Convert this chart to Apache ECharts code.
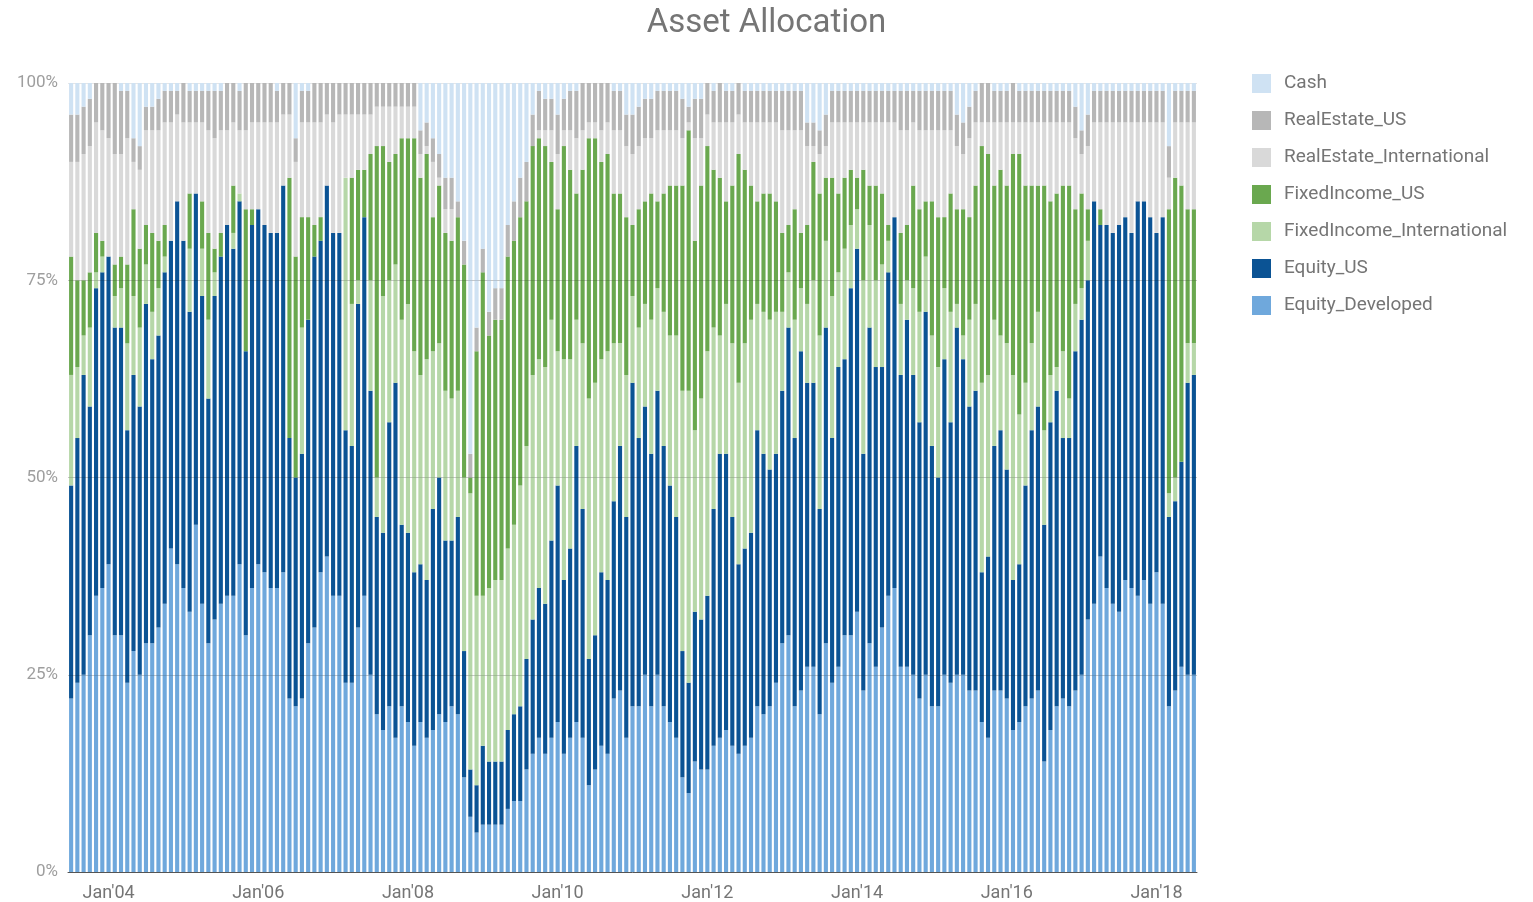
<!DOCTYPE html>
<html lang="en">
<head>
	<meta charset="UTF-8">
	<title>Asset Allocation</title>
	<script src="https://cdn.jsdelivr.net/npm/echarts@6/dist/echarts.min.js"></script>
	<style>
		html, body { margin: 0; padding: 0; background: #fff; }
		#chart { width: 1533px; height: 902px; }
	</style>
</head>
<body>
	<div id="chart"></div>
	<script>
		// monthly allocation in %, Jul 2003 .. Jul 2018
		var monthNames = ['Jan', 'Feb', 'Mar', 'Apr', 'May', 'Jun', 'Jul', 'Aug', 'Sep', 'Oct', 'Nov', 'Dec'];
		var startYear = 2003, startMonth = 6;

		var equityDeveloped = [
			22,24,25,30,35,36,39,30,30,24, 28,25,29,29,31,34,41,39,36,33,
			44,34,29,32,34,35,35,39,30,36, 39,38,36,36,38,22,21,22,29,31,
			38,40,35,35,24,24,31,35,25,20, 18,21,17,21,19,16,19,17,18,20,
			19,21,20,12,7,5,6,6,6,6, 8,9,9,13,15,17,15,17,19,15,
			17,19,17,11,13,16,15,22,23,17, 21,21,25,21,25,21,19,17,12,10,
			14,13,13,16,17,18,16,15,16,17, 21,20,21,24,29,30,21,23,26,26,
			20,29,24,26,30,30,33,23,29,26, 31,35,36,26,26,25,22,25,21,21,
			25,24,25,25,23,23,19,17,23,23, 22,18,19,21,22,23,14,18,21,22,
			21,23,25,32,34,40,36,34,33,37, 36,35,37,34,38,34,21,23,26,25,
			25
		];
		var equityUS = [
			27,31,38,29,39,40,39,39,39,32, 35,34,43,36,37,42,39,46,44,38,
			42,39,31,41,44,47,44,46,36,46, 45,44,45,45,49,33,29,31,41,47,
			42,47,46,46,32,30,41,48,36,25, 25,36,45,23,24,22,20,20,28,30,
			23,21,25,16,6,6,10,8,8,8, 10,11,12,14,17,19,19,25,30,22,
			24,35,29,16,17,22,22,25,31,28, 41,34,34,32,36,33,30,28,16,14,
			19,19,22,30,36,35,29,24,25,26, 35,33,30,29,32,39,34,43,36,36,
			26,40,31,38,35,44,46,30,40,38, 33,41,47,37,44,38,35,46,33,29,
			40,33,44,40,36,38,19,23,31,33, 29,19,20,28,34,36,30,39,40,33,
			34,43,45,43,51,42,46,47,49,46, 45,50,48,49,43,49,24,24,26,37,
			38
		];
		var fixedIncomeIntl = [
			14,9,5,10,2,2,0,4,5,11, 10,10,5,6,6,2,0,0,0,8,
			0,6,10,3,0,0,2,1,0,0, 0,0,0,0,0,0,0,16,0,0,
			0,0,0,0,32,18,3,0,14,5, 30,18,15,26,29,28,24,28,20,17,
			19,18,16,22,35,24,19,22,23,23, 23,24,28,27,31,29,30,28,17,28,
			24,16,21,33,32,27,29,20,13,18, 11,14,13,17,13,17,19,23,33,37,
			23,28,31,23,15,19,22,23,26,27, 16,18,19,18,10,7,15,8,10,13,
			22,11,18,12,14,8,5,22,13,11, 13,4,0,9,5,11,14,7,14,14,
			9,14,3,3,11,11,24,23,16,12, 16,26,19,13,11,12,12,6,3,11,
			5,6,4,5,0,0,0,0,0,0, 0,0,0,0,0,0,3,3,0,5,
			4
		];
		var fixedIncomeUS = [
			15,11,7,7,5,2,0,4,4,10, 11,10,5,10,6,4,0,0,0,7,
			0,6,11,3,3,0,6,0,18,2, 0,0,0,0,0,33,28,14,13,4,
			3,0,0,0,0,16,14,6,16,42, 19,15,14,23,21,27,25,26,17,20,
			20,20,22,27,2,31,41,32,33,33, 37,36,34,31,29,28,28,20,18,27,
			24,16,22,33,31,25,25,19,19,20, 9,15,13,16,11,15,19,19,26,33,
			24,27,26,20,20,13,20,29,22,17, 13,15,16,14,10,6,14,7,10,15,
			18,8,15,10,9,7,4,14,5,12, 9,2,0,9,7,13,13,7,17,19,
			9,15,12,16,13,15,30,28,17,21, 20,28,33,25,20,16,31,22,22,21,
			27,12,12,4,0,2,0,0,0,0, 0,0,0,0,0,0,36,38,35,17,
			17
		];
		var realEstateIntl = [
			12,15,16,16,14,14,15,14,13,16, 6,10,12,13,14,13,15,11,15,9,
			9,10,13,14,13,12,8,8,10,11, 11,13,14,14,9,8,12,12,12,13,
			12,9,14,15,8,8,7,7,5,5, 5,7,6,4,4,4,3,1,7,1,
			3,4,0,0,0,0,0,0,0,0, 0,0,0,0,0,1,2,4,7,2,
			5,7,5,2,2,4,4,8,8,9, 9,8,8,7,9,8,7,7,6,1,
			13,6,4,6,7,10,8,5,6,8, 10,9,9,10,13,12,10,13,10,2,
			5,4,7,9,7,6,7,6,8,8, 9,13,12,13,12,8,10,9,9,11,
			11,8,8,7,10,8,3,4,8,6, 8,4,4,8,8,8,8,10,9,8,
			8,9,5,8,10,11,13,14,13,12, 14,10,10,12,14,12,4,7,8,11,
			11
		];
		var realEstateUS = [
			6,6,6,6,5,6,7,9,8,6, 3,3,3,3,4,4,4,3,5,4,
			4,4,5,6,5,6,5,5,6,5, 5,5,5,4,4,4,3,4,4,5,
			5,4,5,4,4,4,4,4,4,3, 3,3,3,3,3,3,3,3,3,3,
			4,4,2,3,3,3,3,3,4,4, 4,5,5,5,4,5,4,4,5,4,
			5,6,6,5,5,6,5,5,5,4, 5,5,5,5,5,5,5,5,5,2,
			5,5,4,4,5,4,4,4,4,4, 4,4,4,4,5,5,5,5,3,3,
			3,4,4,4,4,4,4,4,4,4, 4,4,4,5,5,4,5,5,5,5,
			5,5,4,4,4,4,5,5,4,4, 4,5,4,4,4,4,4,4,4,4,
			4,4,3,4,4,4,4,4,4,4, 4,4,4,4,4,4,4,4,4,4,
			4
		];
		var cash = [
			4,4,3,2,0,0,0,0,1,1, 7,8,3,3,2,1,1,1,0,1,
			1,1,1,1,1,0,0,1,0,0, 0,0,0,1,0,0,7,1,1,0,
			0,0,0,0,0,0,0,0,0,0, 0,0,0,0,0,0,6,5,7,9,
			12,12,15,20,47,31,21,29,26,26, 18,15,12,10,4,1,2,2,4,2,
			1,1,0,0,0,0,0,1,1,4, 4,3,2,2,1,1,1,1,2,3,
			2,2,0,1,0,1,1,0,1,1, 1,1,1,1,1,1,1,1,5,5,
			6,4,1,1,1,1,1,1,1,1, 1,1,1,1,1,1,1,1,1,1,
			1,1,4,5,3,1,0,0,1,1, 1,0,1,1,1,1,1,1,1,1,
			1,3,6,4,1,1,1,1,1,1, 1,1,1,1,1,1,8,1,1,1,
			1
		];
		var yTicks = [0, 25, 50, 75, 100];

		var categories = [];
		for (var i = 0; i < equityDeveloped.length; i++) {
			var m = (startMonth + i) % 12;
			var y = startYear + Math.floor((startMonth + i) / 12);
			categories.push(monthNames[m] + "'" + String(y).slice(2));
		}

		var seriesDefs = [
			{ name: 'Equity_Developed', data: equityDeveloped, color: '#6fa8dc' },
			{ name: 'Equity_US', data: equityUS, color: '#0b5394' },
			{ name: 'FixedIncome_International', data: fixedIncomeIntl, color: '#b6d7a8' },
			{ name: 'FixedIncome_US', data: fixedIncomeUS, color: '#6aa84f' },
			{ name: 'RealEstate_International', data: realEstateIntl, color: '#d9d9d9' },
			{ name: 'RealEstate_US', data: realEstateUS, color: '#b7b7b7' },
			{ name: 'Cash', data: cash, color: '#cfe2f3' }
		];

		var series = seriesDefs.map(function (s) {
			return {
				name: s.name,
				type: 'bar',
				stack: 'total',
				data: s.data,
				barCategoryGap: '34%',
				itemStyle: { color: s.color },
				emphasis: { disabled: true }
			};
		});
		// gridlines drawn over the bars, as in the original
		series[series.length - 1].markLine = {
			silent: true,
			symbol: 'none',
			label: { show: false },
			lineStyle: { color: 'rgba(0,0,0,0.13)', width: 1, type: 'solid' },
			data: [{ yAxis: 25 }, { yAxis: 50 }, { yAxis: 75 }]
		};

		var option = {
			animation: false,
			textStyle: { fontFamily: 'Roboto' },
			title: {
				text: 'Asset Allocation',
				left: 'center',
				top: 2,
				textStyle: { fontSize: 33, fontWeight: 'normal', color: '#757575', fontFamily: 'Roboto' }
			},
			legend: {
				orient: 'vertical',
				left: 1252,
				top: 74,
				padding: 0,
				icon: 'rect',
				itemWidth: 19,
				itemHeight: 19,
				itemGap: 18,
				textStyle: { fontSize: 19, color: '#757575', padding: [0, 0, 0, 8] },
				data: ['Cash', 'RealEstate_US', 'RealEstate_International', 'FixedIncome_US',
					'FixedIncome_International', 'Equity_US', 'Equity_Developed']
			},
			grid: { left: 68, right: 336, top: 83, bottom: 30 },
			xAxis: {
				type: 'category',
				data: categories,
				axisTick: { show: false },
				axisLine: { lineStyle: { color: '#555', width: 1 } },
				axisLabel: {
					color: '#757575',
					fontSize: 18,
					margin: 12,
					interval: function (idx, val) {
						return val.indexOf('Jan') === 0 && parseInt(val.slice(4), 10) % 2 === 0;
					}
				}
			},
			yAxis: {
				type: 'value',
				min: yTicks[0],
				max: yTicks[yTicks.length - 1],
				interval: 25,
				axisLine: { show: false },
				axisTick: { show: false },
				axisLabel: { color: '#9e9e9e', fontSize: 17, margin: 10, formatter: '{value}%' },
				splitLine: { lineStyle: { color: '#e6e6e6' } }
			},
			series: series
		};

		var myChart = echarts.init(document.getElementById('chart'));
		myChart.setOption(option);
	</script>
</body>
</html>
